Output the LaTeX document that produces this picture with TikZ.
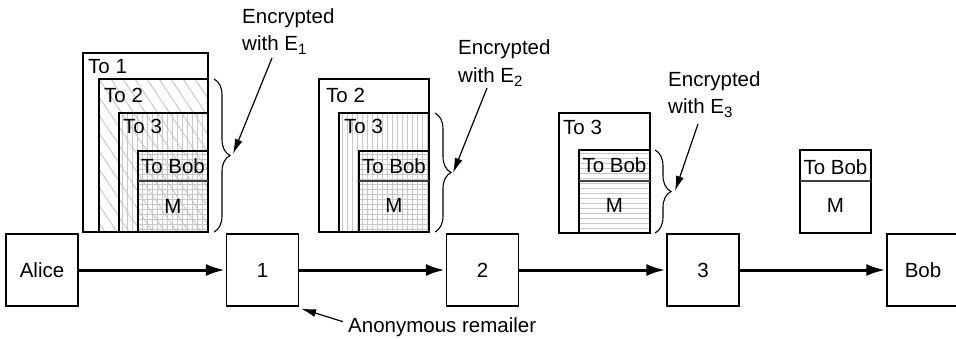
\documentclass[tikz,border=0pt]{standalone}
\usepackage{fontspec}
\setmainfont{Liberation Sans}
\usetikzlibrary{arrows.meta,decorations.pathreplacing}

\tikzset{
  box/.style={draw, line width=1.2pt, minimum width=72pt, minimum height=72pt, inner sep=0pt},
  lbl/.style={inner sep=0pt, anchor=base west},
  ctr/.style={inner sep=0pt, anchor=base},
  hatchline/.style={draw=black!22, line width=0.9pt},
  frame/.style={draw, line width=1.2pt},
  divider/.style={draw=black!75, line width=2pt},
  bigarrow/.style={line width=3pt, -{Latex[length=19pt,width=12pt]}, shorten >=1pt},
  ptr/.style={line width=1.2pt, -{Latex[length=15pt,width=8pt]}},
  bracestyle/.style={decorate, decoration={brace, amplitude=16pt}, line width=1.1pt},
}

\newcommand\esub[1]{{\fontsize{15}{15}\selectfont\raisebox{-4.5pt}{#1}}}

\newcommand\hatchD[4]{\begin{scope}\clip (#1,#2) rectangle (#3,#4);
  \foreach \i in {-132,-120,...,120}{\draw[hatchline] (#1+\i,#2) -- ++(110,165);}
\end{scope}}
\newcommand\hatchV[4]{\begin{scope}\clip (#1,#2) rectangle (#3,#4);
  \foreach \i in {3,8,...,120}{\draw[hatchline] (#1+\i,#2) -- (#1+\i,#4);}
\end{scope}}
\newcommand\hatchH[4]{\begin{scope}\clip (#1,#2) rectangle (#3,#4);
  \foreach \i in {3,8,...,100}{\draw[hatchline] (#1,#2+\i) -- (#3,#2+\i);}
\end{scope}}

\begin{document}
\begin{tikzpicture}[x=1pt,y=-1pt,font=\fontsize{20.5}{27}\selectfont]
\useasboundingbox (0,0) rectangle (956,338);

% ---------- stack 1 ----------
\hatchD{99}{79}{208}{232}
\hatchV{119}{113}{208}{232}
\hatchH{138}{151}{208}{232}
\draw[frame] (83,53) rectangle (208,232);
\draw[frame] (99,79) rectangle (208,232);
\draw[frame] (119,113) rectangle (208,232);
\draw[frame] (138,151) rectangle (208,232);
\draw[divider] (138,181) -- (208,181);
\node[lbl] (t11) at (88,73) {To 1};
\node[lbl] (t12) at (104,102) {To 2};
\node[lbl] (t13) at (123,133) {To 3};
\node[ctr] (t1b) at (173,173) {To Bob};
\node[ctr] (t1m) at (173,213) {M};

% ---------- stack 2 ----------
\hatchV{339}{113}{429}{232}
\hatchH{359}{151}{429}{232}
\draw[frame] (319,79) rectangle (429,232);
\draw[frame] (339,113) rectangle (429,232);
\draw[frame] (359,151) rectangle (429,232);
\draw[divider] (359,181) -- (429,181);
\node[lbl] (t22) at (326,102) {To 2};
\node[lbl] (t23) at (344,133) {To 3};
\node[ctr] (t2b) at (394,173) {To Bob};
\node[ctr] (t2m) at (394,212) {M};

% ---------- stack 3 ----------
\hatchH{579}{150}{650}{233}
\draw[frame] (559,113) rectangle (650,233);
\draw[frame] (579,150) rectangle (650,233);
\draw[divider] (579,181) -- (650,181);
\node[lbl] (t33) at (563,134) {To 3};
\node[ctr] (t3b) at (614.5,172) {To Bob};
\node[ctr] (t3m) at (614.5,212) {M};

% ---------- stack 4 ----------
\draw[frame] (800,150) rectangle (871,233);
\draw[divider] (800,181) -- (871,181);
\node[ctr] (t4b) at (835.5,174) {To Bob};
\node[ctr] (t4m) at (835.5,212) {M};

% ---------- braces ----------
\draw[bracestyle] (214,79) -- (214,232);
\draw[bracestyle] (435,113) -- (435,232);
\draw[bracestyle] (655,150) -- (655,233);

% ---------- encryption labels ----------
\node[lbl] (e1a) at (242,23) {Encrypted};
\node[lbl] (e1b) at (242,50) {with E\esub{1}};
\node[lbl] (e2a) at (458,54) {Encrypted};
\node[lbl] (e2b) at (458,82) {with E\esub{2}};
\node[lbl] (e3a) at (668,86) {Encrypted};
\node[lbl] (e3b) at (668,113) {with E\esub{3}};

\coordinate (a1s) at (272,58);  \coordinate (a1e) at (233,154);
\coordinate (a2s) at (487,88);  \coordinate (a2e) at (453,173);
\coordinate (a3s) at (698,124); \coordinate (a3e) at (675,191);
\draw[ptr] (a1s) -- (a1e);
\draw[ptr] (a2s) -- (a2e);
\draw[ptr] (a3s) -- (a3e);

% ---------- path ----------
\node[box] (alice) at (42,270) {Alice};
\node[box] (r1) at (262.5,270) {1};
\node[box] (r2) at (482.5,270) {2};
\node[box] (r3) at (703,270) {3};
\node[box] (bob) at (923,270) {Bob};
\draw[bigarrow] (alice) -- (r1);
\draw[bigarrow] (r1) -- (r2);
\draw[bigarrow] (r2) -- (r3);
\draw[bigarrow] (r3) -- (bob);

\node[lbl] (anon) at (348,332) {Anonymous remailer};
\draw[ptr] ([xshift=-5pt,yshift=5pt]anon.west) -- ([shift={(2pt,-2pt)}]r1.south east);
\end{tikzpicture}
\end{document}
